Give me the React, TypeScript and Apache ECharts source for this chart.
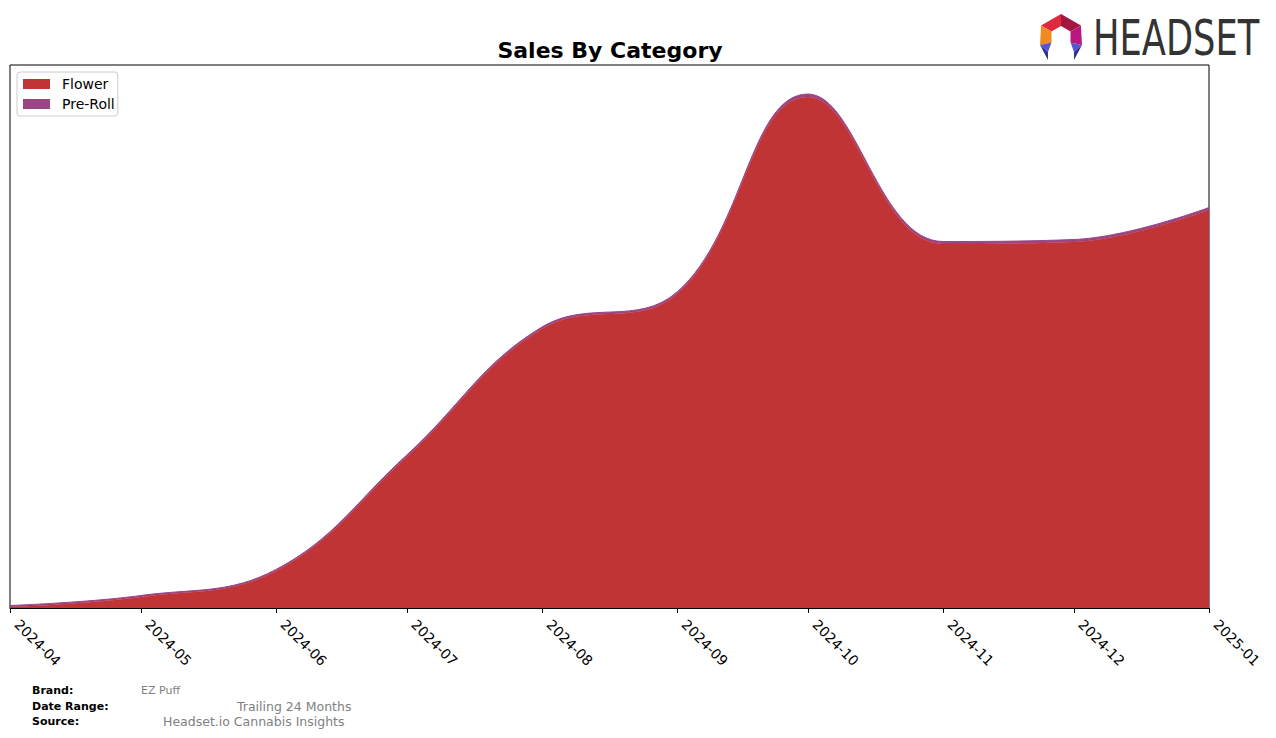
import React, { useEffect, useRef } from "react";
import * as echarts from "echarts";

const months = [
  "2024-04-01", "2024-05-01", "2024-06-01", "2024-07-01", "2024-08-01",
  "2024-09-01", "2024-10-01", "2024-11-01", "2024-12-01", "2025-01-01",
];
// sales, arbitrary units (thousands)
const flowerSales = [1, 11, 37, 151, 279, 314, 511, 364, 366, 398];
const preRollSales = [1.5, 1.5, 1.5, 2, 2, 2, 3, 2.5, 2.5, 2.5];
const seriesNames = ["Flower", "Pre-Roll"];
const seriesColors = ["#c13436", "#9b4585"];
const footerLabels = ["Brand:", "Date Range:", "Source:"];
const footerValues = ["EZ Puff", "Trailing 24 Months", "Headset.io Cannabis Insights"];

const FONT = "DejaVu Sans";

export default function App() {
  const ref = useRef<HTMLDivElement>(null);
  useEffect(() => {
    document.body.style.margin = "0";
    const chart = echarts.init(ref.current!, null, { renderer: "svg" });
    const toPairs = (vals: number[]) => months.map((m, i) => [m, vals[i]]);
    const cx = 1061, cy = 37;
    const hex = (r: number, a: number) => [cx + r * Math.cos((a * Math.PI) / 180), cy + r * Math.sin((a * Math.PI) / 180)];
    const oT = hex(23, -90), oUR = hex(23, -30), oLR = [1082, 45], oLL = [1040, 45], oUL = hex(23, 210);
    const iT = hex(11, -90), iUR = hex(11, -30), iLR = hex(11, 30), iLL = hex(11, 150), iUL = hex(11, 210);
    const poly = (pts: number[][], fill: string) => ({ type: "polygon", shape: { points: pts }, style: { fill }, silent: true });
    chart.setOption({
      animation: false,
      backgroundColor: "#fff",
      textStyle: { fontFamily: FONT },
      grid: { left: 10, right: 67, top: 65, bottom: 130, show: true, borderColor: "#000", borderWidth: 1, containLabel: false },
      legend: {
        data: seriesNames,
        orient: "vertical",
        left: 17,
        top: 72,
        icon: "rect",
        itemWidth: 27,
        itemHeight: 10,
        itemGap: 6,
        padding: [5, 3, 5, 6],
        borderColor: "#ccc",
        borderWidth: 1,
        borderRadius: 3,
        backgroundColor: "#fff",
        textStyle: { fontFamily: FONT, fontSize: 14, color: "#000", lineHeight: 14, padding: [0, 0, 0, 7] },
      },
      xAxis: {
        type: "time",
        min: months[0],
        max: months[months.length - 1],
        minInterval: 28 * 86400000,
        maxInterval: 31 * 86400000,
        axisLine: { show: true, lineStyle: { color: "#000", width: 1 } },
        axisTick: { show: true, length: 5, lineStyle: { color: "#000" } },
        splitLine: { show: false },
        axisLabel: {
          formatter: "{yyyy}-{MM}",
          rotate: -45,
          color: "#000",
          fontFamily: FONT,
          fontSize: 14,
          margin: 7,
          padding: [0, 0, 0, 10],
          hideOverlap: false,
          showMinLabel: true,
          showMaxLabel: true,
        },
      },
      yAxis: {
        type: "value",
        min: 0,
        max: 543,
        axisLine: { show: false },
        axisTick: { show: false },
        axisLabel: { show: false },
        splitLine: { show: false },
      },
      series: [
        {
          name: seriesNames[0],
          type: "line",
          stack: "total",
          smooth: 0.4,
          symbol: "none",
          data: toPairs(flowerSales),
          itemStyle: { color: seriesColors[0] },
          lineStyle: { width: 0.5, color: seriesColors[0] },
          areaStyle: { color: seriesColors[0], opacity: 1 },
        },
        {
          name: seriesNames[1],
          type: "line",
          stack: "total",
          smooth: 0.4,
          symbol: "none",
          data: toPairs(preRollSales),
          itemStyle: { color: seriesColors[1] },
          lineStyle: { width: 1, color: seriesColors[1] },
          areaStyle: { color: seriesColors[1], opacity: 1 },
        },
      ],
      graphic: [
        {
          type: "text",
          x: 610,
          y: 50,
          style: { text: "Sales By Category", fontFamily: FONT, fontWeight: "bold", fontSize: 22, fill: "#000", align: "center", verticalAlign: "middle" },
        },
        poly([oUL, oT, iT, iUL], "#de2a3c"),
        poly([oT, oUR, iUR, iT], "#a3173f"),
        poly([oUR, oLR, iLR, iUR], "#b8187f"),
        poly([oUL, iUL, iLL, oLL], "#f28a22"),
        poly([oLL, iLL, [1048, 52]], "#5a55cc"),
        poly([oLL, [1048, 52], [1048, 60]], "#2d3190"),
        poly([oLR, iLR, [1074, 52]], "#5a55cc"),
        poly([oLR, [1074, 52], [1074, 60]], "#2d3190"),
        {
          type: "text",
          x: 1093,
          y: 38,
          scaleX: 0.72,
          style: { text: "HEADSET", fontFamily: FONT, fontSize: 49, fill: "#333", align: "left", verticalAlign: "middle" },
        },
        ...footerLabels.map((t, i) => ({
          type: "text",
          x: 32,
          y: [690, 706, 721][i],
          style: { text: t, fontFamily: FONT, fontWeight: "bold", fontSize: 11, fill: "#000", verticalAlign: "middle" },
        })),
        ...footerValues.map((t, i) => ({
          type: "text",
          x: [141, 237, 163][i],
          y: [690, 706, 721][i],
          style: { text: t, fontFamily: FONT, fontSize: i === 0 ? 11 : 12.5, fill: "#808080", verticalAlign: "middle" },
        })),
      ],
    });
    return () => chart.dispose();
  }, []);
  return <div ref={ref} style={{ width: 1276, height: 738 }} />;
}
